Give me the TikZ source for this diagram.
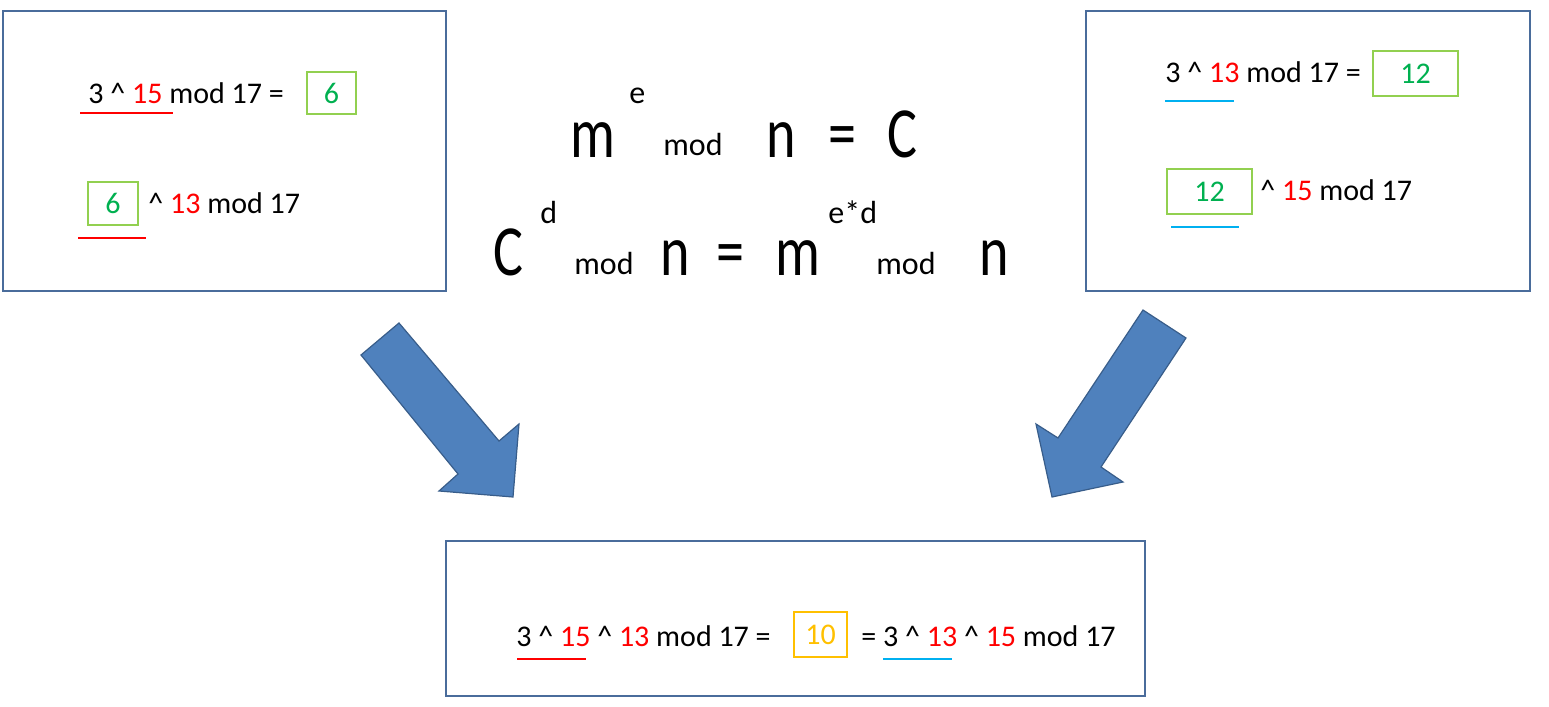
\documentclass[tikz,border=0pt]{standalone}
\usepackage{fontspec}
\setmainfont{Carlito}
\newfontfamily\bigfont[FakeStretch=0.78]{Carlito}
\usepackage{tikz}
\usetikzlibrary{fit}
\definecolor{panelblue}{HTML}{4A6C9B}
\definecolor{arrowfill}{HTML}{4F81BD}
\definecolor{arrowline}{HTML}{385D8A}
\definecolor{numred}{HTML}{FF0000}
\definecolor{numgreen}{HTML}{00B050}
\definecolor{boxgreen}{HTML}{92D050}
\definecolor{keyblue}{HTML}{00B0F0}
\definecolor{resorange}{HTML}{FFC000}
\newcommand{\rd}[1]{\textcolor{numred}{#1}}

\begin{document}
\begin{tikzpicture}[
  x=0.5pt, y=-0.5pt,
  panel/.style={draw=panelblue, line width=1pt, inner sep=0pt},
  txt/.style={anchor=base west, inner sep=0pt, font=\fontsize{15}{18}\selectfont},
  big/.style={anchor=base west, inner sep=0pt, font=\bigfont\fontsize{36}{42}\selectfont},
  small/.style={anchor=base west, inner sep=0pt, font=\fontsize{16}{19}\selectfont},
  keybox/.style={draw=boxgreen, line width=0.8pt, text=numgreen, inner sep=0pt,
                 font=\fontsize{15}{18}\selectfont},
  resbox/.style={draw=resorange, line width=0.8pt, text=resorange, inner sep=0pt,
                 font=\fontsize{15}{18}\selectfont, minimum width=26.5pt, minimum height=22.5pt},
  redline/.style={draw=numred, line width=1pt},
  blueline/.style={draw=keyblue, line width=1pt},
  bigarrow/.style={fill=arrowfill, draw=arrowline, line width=0.6pt, line join=miter}
]
\useasboundingbox (0,0) rectangle (1549,707);

% ── Panels ────────────────────────────────────────────────────
\node[panel, fit={(3,11) (446,291)}] (alice) {};
\node[panel, fit={(1086,11) (1530,291)}] (bob) {};
\node[panel, fit={(446,541) (1145,696)}] (shared) {};

% ── Left panel ────────────────────────────────────────────────
\node[txt] (aline) at (88,103) {3 \^{} \rd{15} mod 17 =};
\node[keybox, minimum width=24.5pt, minimum height=21pt] (apub) at (331.5,93) {6};
\node[keybox, minimum width=25pt, minimum height=21.5pt] (brecv) at (113,203.5) {6};
\node[txt] (bline) at (148,213) {\^{} \rd{13} mod 17};
\draw[redline] (80,113) -- (173,113);
\draw[redline] (78,238) -- (146,238);

% ── Right panel ───────────────────────────────────────────────
\node[txt] (cline) at (1165,82) {3 \^{} \rd{13} mod 17 =};
\node[keybox, minimum width=42.5pt, minimum height=22.5pt] (bpub) at (1415.5,73.5) {12};
\node[keybox, minimum width=42.5pt, minimum height=22.5pt] (arecv) at (1209.5,191.5) {12};
\node[txt] (dline) at (1260,200) {\^{} \rd{15} mod 17};
\draw[blueline] (1165,101) -- (1234,101);
\draw[blueline] (1171,227) -- (1239,227);

% ── Formulas ──────────────────────────────────────────────────
\node[big] (m1) at (570,157) {m};
\node[small] (e1) at (629,103) {e};
\node[small] (mod1) at (663,155) {mod};
\node[big] (n1) at (766,157) {n};
\node[big] (eq1) at (828,157) {=};
\node[big] (c1) at (887,157) {C};

\node[big] (c2) at (493,275) {C};
\node[small] (d2) at (540,223) {d};
\node[small] (mod2) at (574,274) {mod};
\node[big] (n2) at (660,275) {n};
\node[big] (eq2) at (716,275) {=};
\node[big] (m2) at (775,275) {m};
\node[small] (ed2) at (828,223) {e*d};
\node[small] (mod3) at (876,274) {mod};
\node[big] (n3) at (979,275) {n};

% ── Arrows ────────────────────────────────────────────────────
\draw[bigarrow] (361,355) -- (399,323) -- (499,441) -- (519,424) -- (513,497) -- (439,491) -- (458,474) -- cycle;
\draw[bigarrow] (1143,310) -- (1186,338) -- (1101,467) -- (1123,482) -- (1052,497) -- (1036,424) -- (1058,438) -- cycle;

% ── Bottom panel ──────────────────────────────────────────────
\node[txt] (eline) at (516,646) {3 \^{} \rd{15} \^{} \rd{13} mod 17 =};
\node[resbox] (secret) at (820.5,634.5) {10};
\node[txt] (fline) at (861,646) {= 3 \^{} \rd{13} \^{} \rd{15} mod 17};
\draw[redline] (517,659) -- (586,659);
\draw[blueline] (883,659) -- (952,659);
\end{tikzpicture}
\end{document}
